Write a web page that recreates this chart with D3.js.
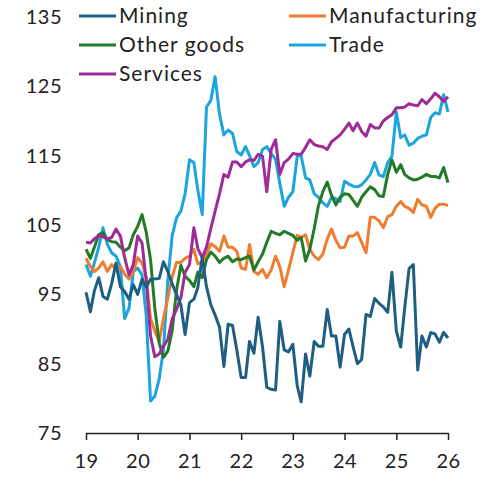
<!DOCTYPE html>
<html>
<head>
<meta charset="utf-8">
<script src="https://cdn.jsdelivr.net/npm/d3@7"></script>
<style>
  body { margin: 0; background: #fff; }
  svg { display: block; font-family: Lato, "Open Sans", sans-serif; }
</style>
</head>
<body>
<div id="chart"></div>
<script>
// monthly index values, Jan 2019 .. Jan 2026
const mining = [95.3, 92.5, 95.5, 97.4, 94.7, 94.3, 96.5, 99.5, 96.1, 95.4, 94.3, 96.4,
  95, 97.2, 96, 97.2, 97.2, 97.3, 99.7, 98.3, 96.5, 95, 93.5, 89.2,
  93.8, 94.3, 96, 100.3, 96.1, 93.5, 92, 90.3, 84.6, 90.7, 90.5, 87,
  83, 83, 88.2, 86.5, 91.7, 87.4, 81.6, 81.3, 81.2, 91.1, 87, 86.7,
  87.8, 81.8, 79.5, 86.4, 83.2, 88.2, 87.5, 87.5, 92.8, 89, 89, 84.5,
  89.2, 90, 87.5, 85, 85.6, 92.1, 91.8, 94.4, 93.7, 93.2, 92.4, 98.2,
  89.7, 87.4, 93, 98.7, 99.3, 84.1, 89, 87.4, 89.5, 89.3, 88.1, 89.5,
  88.7];
const manufacturing = [100.2, 99, 98.3, 98.8, 99.7, 98.3, 99.3, 98.6, 99, 97.9, 97.2, 98.3,
  100.3, 99.5, 97.5, 91.5, 89.7, 88.2, 91.5, 94.5, 97.5, 99.6, 99.6, 100.2,
  100.5, 101.5, 99.4, 99.7, 100.8, 102.3, 101.9, 101.2, 103.4, 101.8, 101.8, 101.2,
  98.8, 98.6, 102.2, 98.3, 97.9, 98.6, 97.4, 98.5, 100.5, 99, 96.1, 98.5,
  101, 103.5, 103.2, 103.6, 101.5, 100.5, 100, 100.8, 103, 104.4, 102.8, 101.7,
  101.8, 103.4, 103.4, 103.9, 102.5, 101, 106.1, 106.1, 105.6, 104.6, 106.2, 106.5,
  107.7, 108.4, 107.7, 107.4, 106.8, 108.7, 107.9, 107.7, 106.1, 107.4, 108, 108,
  107.8];
const otherGoods = [101.5, 100.2, 101.8, 103.6, 103.9, 102.9, 102.6, 102.5, 101.8, 101.3, 101.7, 103.6,
  104.8, 106.5, 104, 100, 93, 88, 85.9, 86.8, 89.8, 95.5, 99.2, 97.6,
  97, 96.1, 98.2, 97.4, 100, 101.1, 100.5, 99.6, 100.2, 100.5, 99.7, 100.1,
  100, 100.3, 100.5, 98.5, 99.7, 100.8, 102.5, 104.1, 103.8, 103.6, 104.1, 103.8,
  103.5, 102.8, 103.2, 99.8, 101.5, 104.5, 107.8, 109.8, 111.2, 109.3, 107.9, 109,
  109.5, 109.4, 108.6, 107.7, 109, 109.8, 110.5, 110.1, 109.2, 109.1, 112.3, 114.4,
  112.6, 113.7, 112.3, 111.8, 111.5, 111.6, 111.9, 112.3, 112, 112, 111.8, 113.3,
  111.1];
const trade = [99.3, 97.6, 99.5, 101.8, 104.6, 102.2, 101, 100.5, 99, 91.5, 93, 98.3,
  98.8, 97.8, 92, 79.6, 80.3, 82.8, 87, 97, 103.5, 106, 107, 109.5,
  114.4, 114, 110, 106.5, 122, 123, 126.4, 121, 118, 118.7, 118.2, 115.6,
  115.1, 116.3, 115, 113.4, 114, 115.9, 116.3, 115.3, 114.5, 111, 107.7, 109,
  109.8, 114.9, 115, 111.8, 111.5, 109.5, 109, 108.2, 107.7, 109, 108.8, 108.4,
  111.3, 110.9, 110.6, 110.5, 110.8, 111.5, 112.3, 114, 112.2, 112, 114, 114.9,
  121.3, 117.6, 118, 116.5, 116.8, 117.5, 117.8, 118, 120.5, 121.2, 121, 123.8,
  121.3];
const services = [102.5, 102.4, 103, 103.5, 103.3, 103, 103.2, 104.4, 103.4, 100.3, 97.8, 99.3,
  103.4, 102.4, 97, 89, 86, 86.4, 87.5, 88.5, 91.5, 92.8, 94.5, 98.2,
  99.3, 104.6, 101.6, 100.3, 101.8, 104.5, 107, 109.5, 112.3, 111.9, 114.1, 114.1,
  113.4, 114.1, 114.4, 114.3, 115.2, 114.9, 109.8, 115.9, 117.3, 112.3, 114, 114.5,
  115.3, 115.2, 115.2, 116.2, 117.3, 116.6, 116.4, 116.3, 115.9, 117, 117.5, 118,
  118.8, 119.7, 118.6, 119.7, 118.5, 117.8, 119.5, 119, 119, 120, 120.5, 120.9,
  121.9, 121.9, 122, 122.5, 122.3, 122.2, 123.1, 122.5, 123.2, 124, 123.5, 122.8,
  123.5];

const seriesNames = ["Mining", "Manufacturing", "Other goods", "Trade", "Services"];
const seriesColors = ["#1d5e82", "#ee7d31", "#237a27", "#1ca4dc", "#9f2b97"];
const yTicks = [75, 85, 95, 105, 115, 125, 135];
const xTickLabels = ["19", "20", "21", "22", "23", "24", "25", "26"];

const months = d3.timeMonths(new Date(2019, 0, 1), new Date(2026, 0, 2));
const allSeries = [mining, manufacturing, otherGoods, trade, services];

const width = 482;
const height = 479;

const svg = d3.select("#chart")
  .append("svg")
  .attr("width", width)
  .attr("height", height);

const x = d3.scaleTime()
  .domain([new Date(2019, 0, 1), new Date(2026, 0, 1)])
  .range([86, 448]);

const y = d3.scaleLinear()
  .domain([75, 135])
  .range([433, 17]);

// y labels, no axis line
svg.append("g")
  .selectAll("text")
  .data(yTicks)
  .enter()
  .append("text")
  .attr("x", 62)
  .attr("y", d => y(d))
  .attr("dy", "0.35em")
  .attr("text-anchor", "end")
  .attr("font-size", 20)
  .attr("letter-spacing", 0.5)
  .attr("fill", "#222")
  .text(d => d);

// x axis
const yearDates = xTickLabels.map(t => new Date(2000 + +t, 0, 1));
const xAxis = svg.append("g")
  .attr("transform", `translate(0,${y(75)})`)
  .call(d3.axisBottom(x)
    .tickValues(yearDates)
    .tickSize(7)
    .tickSizeOuter(0)
    .tickPadding(14)
    .tickFormat((d, i) => xTickLabels[i]));
xAxis.select(".domain").attr("stroke", "#222").attr("stroke-width", 1.5);
xAxis.selectAll(".tick line").attr("stroke", "#222").attr("stroke-width", 1.5);
xAxis.selectAll(".tick text")
  .attr("font-size", 20)
  .attr("letter-spacing", 0.5)
  .attr("font-family", "Lato, 'Open Sans', sans-serif")
  .attr("fill", "#222");

// lines
const line = d3.line()
  .x((d, i) => x(months[i]))
  .y(d => y(d));

const drawOrder = [3, 1, 2, 4, 0];
drawOrder.forEach(k => {
  svg.append("path")
    .datum(allSeries[k])
    .attr("fill", "none")
    .attr("stroke", seriesColors[k])
    .attr("stroke-width", 3)
    .attr("stroke-linejoin", "round")
    .attr("d", line);
});

// legend
const legend = svg.append("g");
seriesNames.forEach((name, i) => {
  const col = i % 2;
  const row = Math.floor(i / 2);
  const lx = col === 0 ? 79 : 289;
  const ly = 16 + row * 29;
  legend.append("line")
    .attr("x1", lx).attr("x2", lx + 37)
    .attr("y1", ly).attr("y2", ly)
    .attr("stroke", seriesColors[i])
    .attr("stroke-width", 3);
  legend.append("text")
    .attr("x", lx + 40)
    .attr("y", ly)
    .attr("dy", "0.35em")
    .attr("font-size", 21)
    .attr("letter-spacing", 1)
    .attr("fill", "#222")
    .text(name);
});
</script>
</body>
</html>
